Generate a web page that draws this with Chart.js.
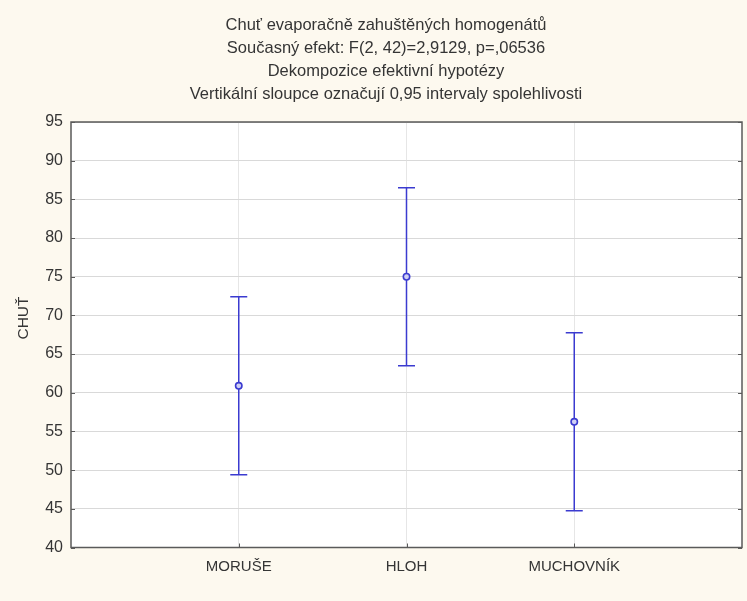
<!DOCTYPE html>
<html>
<head>
<meta charset="utf-8">
<script src="https://cdn.jsdelivr.net/npm/chart.js@4/dist/chart.umd.min.js"></script>
<style>
  html, body { margin: 0; padding: 0; background: #fdf9ef; }
  #c { display: block; }
</style>
</head>
<body>
<canvas id="c" width="747" height="601"></canvas>
<script>
// Group means with 0.95 confidence limits
const categories = ['MORUŠE', 'HLOH', 'MUCHOVNÍK'];
const means = [60.9, 75.0, 56.25];
const lowerLimits = [49.4, 63.5, 44.75];
const upperLimits = [72.4, 86.5, 67.75];

// Y axis tick values
const yTicks = [40, 45, 50, 55, 60, 65, 70, 75, 80, 85, 90, 95];

const titleLines = [
  'Chuť evaporačně zahuštěných homogenátů',
  'Současný efekt: F(2, 42)=2,9129, p=,06536',
  'Dekompozice efektivní hypotézy',
  'Vertikální sloupce označují 0,95 intervaly spolehlivosti'
];
const yAxisTitle = 'CHUŤ';

const FONT = '"Liberation Sans", Arial, sans-serif';
const TEXT = '#353535';
const BAR = '#3b3bd0';

// Category slots sit at 1..n on a linear x scale running from 0 to n+1
const points = categories.map((c, i) => ({ x: i + 1, y: means[i] }));

const backgroundPlugin = {
  id: 'bg',
  beforeDraw(chart) {
    const { ctx, chartArea: a } = chart;
    ctx.save();
    ctx.fillStyle = '#fdf9ef';
    ctx.fillRect(0, 0, chart.width, chart.height);
    ctx.fillStyle = '#ffffff';
    ctx.fillRect(a.left, a.top, a.right - a.left, a.bottom - a.top);
    ctx.restore();
  }
};

// Four-line heading and the rotated axis caption
const captionPlugin = {
  id: 'captions',
  afterDraw(chart) {
    const { ctx, chartArea: a } = chart;
    ctx.save();
    ctx.fillStyle = TEXT;
    ctx.textAlign = 'center';
    ctx.textBaseline = 'middle';
    ctx.font = '16.5px ' + FONT;
    titleLines.forEach((line, i) => {
      ctx.fillText(line, 386, 25 + i * 23.3);
    });
    ctx.translate(24, 318);
    ctx.rotate(-Math.PI / 2);
    ctx.font = '15.5px ' + FONT;
    ctx.fillText(yAxisTitle, 0, 0);
    ctx.restore();
  }
};

const errorBarPlugin = {
  id: 'errorBars',
  beforeDatasetsDraw(chart) {
    const { ctx, scales: { x, y } } = chart;
    ctx.save();
    ctx.strokeStyle = BAR;
    ctx.lineWidth = 1.5;
    categories.forEach((c, i) => {
      const px = x.getPixelForValue(i + 1);
      const yt = y.getPixelForValue(upperLimits[i]);
      const yb = y.getPixelForValue(lowerLimits[i]);
      const half = 8.5;
      ctx.beginPath();
      ctx.moveTo(px, yt); ctx.lineTo(px, yb);
      ctx.moveTo(px - half, yt); ctx.lineTo(px + half, yt);
      ctx.moveTo(px - half, yb); ctx.lineTo(px + half, yb);
      ctx.stroke();
    });
    ctx.restore();
  }
};

const framePlugin = {
  id: 'frame',
  afterDatasetsDraw(chart) {
    const { ctx, chartArea: a, scales: { x, y } } = chart;
    ctx.save();
    ctx.strokeStyle = '#5a5a5a';
    ctx.lineWidth = 1.5;
    ctx.strokeRect(a.left, a.top, a.right - a.left, a.bottom - a.top);
    ctx.lineWidth = 1;
    ctx.beginPath();
    yTicks.forEach(v => {
      const py = Math.round(y.getPixelForValue(v)) + 0.5;
      ctx.moveTo(a.left, py); ctx.lineTo(a.left + 4, py);
      ctx.moveTo(a.right, py); ctx.lineTo(a.right - 4, py);
    });
    categories.forEach((c, i) => {
      const px = Math.round(x.getPixelForValue(i + 1)) + 0.5;
      ctx.moveTo(px, a.bottom); ctx.lineTo(px, a.bottom - 4);
    });
    ctx.stroke();
    ctx.restore();
  }
};

new Chart(document.getElementById('c'), {
  type: 'scatter',
  data: {
    datasets: [{
      data: points,
      pointStyle: 'circle',
      pointRadius: 3.2,
      pointBorderWidth: 1.6,
      borderColor: BAR,
      backgroundColor: '#d0d0f4',
      pointHoverRadius: 3.2
    }]
  },
  options: {
    responsive: false,
    animation: false,
    events: [],
    layout: { padding: { top: 122, right: 5, bottom: 0, left: 0 } },
    plugins: {
      legend: { display: false },
      tooltip: { enabled: false },
      title: { display: false }
    },
    scales: {
      x: {
        type: 'linear',
        min: 0,
        max: categories.length + 1,
        afterBuildTicks(scale) {
          scale.ticks = categories.map((c, i) => ({ value: i + 1 }));
        },
        afterFit(scale) { scale.height = 53.5; },
        ticks: {
          color: TEXT,
          font: { family: FONT, size: 15 },
          padding: 10,
          maxRotation: 0,
          autoSkip: false,
          callback: (v) => categories[v - 1] ?? ''
        },
        grid: { color: '#e6e6e6', lineWidth: 1, drawTicks: false },
        border: { display: false }
      },
      y: {
        min: yTicks[0],
        max: yTicks[yTicks.length - 1],
        afterBuildTicks(scale) {
          scale.ticks = yTicks.map(v => ({ value: v }));
        },
        afterFit(scale) { scale.width = 71; },
        ticks: {
          color: TEXT,
          font: { family: FONT, size: 16 },
          padding: 8
        },
        grid: { color: '#d9d9d9', lineWidth: 1, drawTicks: false },
        border: { display: false }
      }
    }
  },
  plugins: [backgroundPlugin, errorBarPlugin, framePlugin, captionPlugin]
});
</script>
</body>
</html>
